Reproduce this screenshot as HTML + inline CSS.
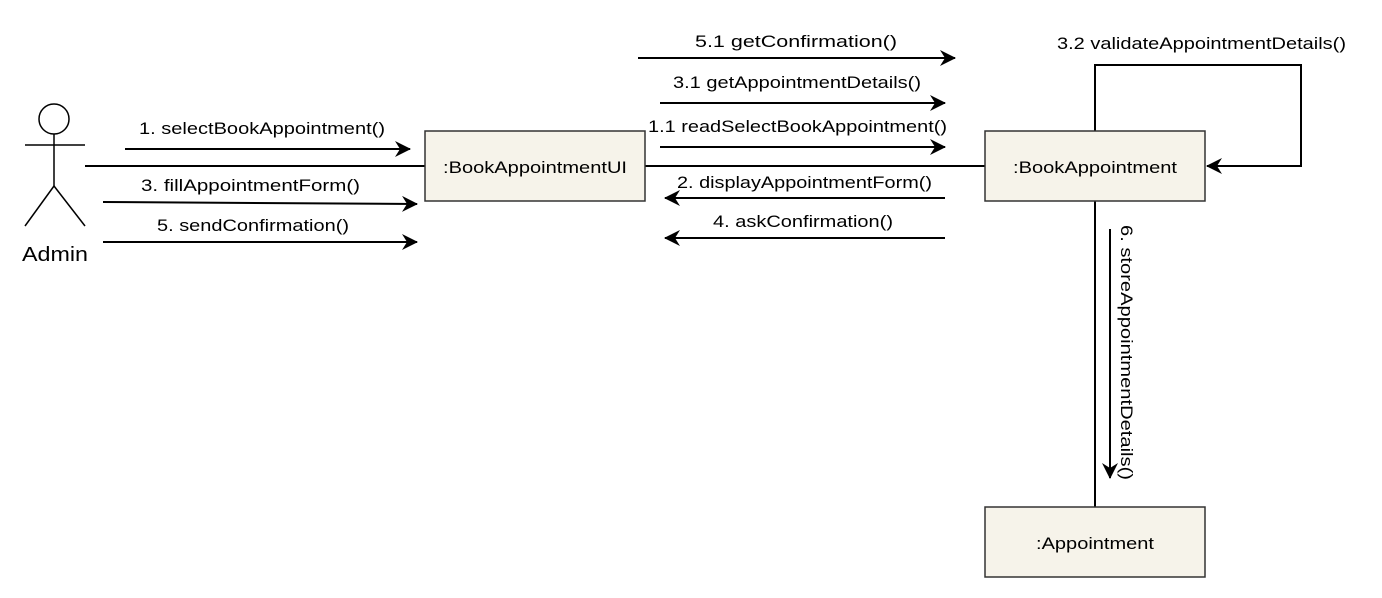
<!DOCTYPE html>
<html><head><meta charset="utf-8"><style>
html,body{margin:0;padding:0;background:#fff}
svg{display:block}
text{font-family:"Liberation Sans",Arial,sans-serif;fill:#000}
</style></head><body>
<svg width="1382" height="598" viewBox="0 0 1382 598" xmlns="http://www.w3.org/2000/svg">
<defs>
<marker id="b" viewBox="0 0 16 16" refX="15" refY="8" markerWidth="16" markerHeight="16" markerUnits="userSpaceOnUse" orient="auto"><path d="M0,0 L16,8 L0,16 L5,8 Z" fill="#000"/></marker>
</defs>
<g stroke="#000" stroke-width="2" fill="none">
<circle cx="54" cy="119" r="15" stroke-width="1.5"/>
<line x1="54" y1="134" x2="54" y2="186" stroke-width="1.5"/>
<line x1="25" y1="145" x2="85" y2="145" stroke-width="1.5"/>
<line x1="54" y1="186" x2="25" y2="226" stroke-width="1.5"/>
<line x1="54" y1="186" x2="85" y2="226" stroke-width="1.5"/>
<line x1="85" y1="166" x2="425" y2="166"/>
<line x1="645" y1="166" x2="985" y2="166"/>
<line x1="1095" y1="201" x2="1095" y2="507"/>
<polyline points="1095,131 1095,65 1301,65 1301,166 1207,166" marker-end="url(#b)"/>
<line x1="125" y1="149" x2="410" y2="149" marker-end="url(#b)"/>
<line x1="103" y1="202" x2="417" y2="204" marker-end="url(#b)"/>
<line x1="103" y1="242" x2="417" y2="242" marker-end="url(#b)"/>
<line x1="638" y1="58" x2="955" y2="58" marker-end="url(#b)"/>
<line x1="660" y1="103" x2="945" y2="103" marker-end="url(#b)"/>
<line x1="660" y1="147" x2="945" y2="147" marker-end="url(#b)"/>
<line x1="945" y1="198" x2="665" y2="198" marker-end="url(#b)"/>
<line x1="945" y1="238" x2="665" y2="238" marker-end="url(#b)"/>
<line x1="1110" y1="229" x2="1110" y2="478" marker-end="url(#b)"/>
</g>
<g fill="#f6f3ea" stroke="#333" stroke-width="1.5">
<rect x="425" y="131" width="220" height="70"/>
<rect x="985" y="131" width="220" height="70"/>
<rect x="985" y="507" width="220" height="70"/>
</g>
<g font-size="17" lengthAdjust="spacingAndGlyphs">
<text x="443" y="173" textLength="184" lengthAdjust="spacingAndGlyphs">:BookAppointmentUI</text>
<text x="1013" y="173" textLength="164" lengthAdjust="spacingAndGlyphs">:BookAppointment</text>
<text x="1036" y="549" textLength="118" lengthAdjust="spacingAndGlyphs">:Appointment</text>
<text x="22" y="261" font-size="20" textLength="66" lengthAdjust="spacingAndGlyphs">Admin</text>
<text x="139" y="134" textLength="246" lengthAdjust="spacingAndGlyphs">1. selectBookAppointment()</text>
<text x="141" y="191" textLength="219" lengthAdjust="spacingAndGlyphs">3. fillAppointmentForm()</text>
<text x="157" y="231" textLength="192" lengthAdjust="spacingAndGlyphs">5. sendConfirmation()</text>
<text x="695" y="47" textLength="202" lengthAdjust="spacingAndGlyphs">5.1 getConfirmation()</text>
<text x="673" y="88" textLength="248" lengthAdjust="spacingAndGlyphs">3.1 getAppointmentDetails()</text>
<text x="648" y="132" textLength="299" lengthAdjust="spacingAndGlyphs">1.1 readSelectBookAppointment()</text>
<text x="677" y="188" textLength="255" lengthAdjust="spacingAndGlyphs">2. displayAppointmentForm()</text>
<text x="713" y="227" textLength="180" lengthAdjust="spacingAndGlyphs">4. askConfirmation()</text>
<text x="1057" y="49" textLength="289" lengthAdjust="spacingAndGlyphs">3.2 validateAppointmentDetails()</text>
<text x="0" y="0" transform="translate(1121,225) rotate(90)" textLength="255" lengthAdjust="spacingAndGlyphs">6. storeAppointmentDetails()</text>
</g>
</svg>
</body></html>
